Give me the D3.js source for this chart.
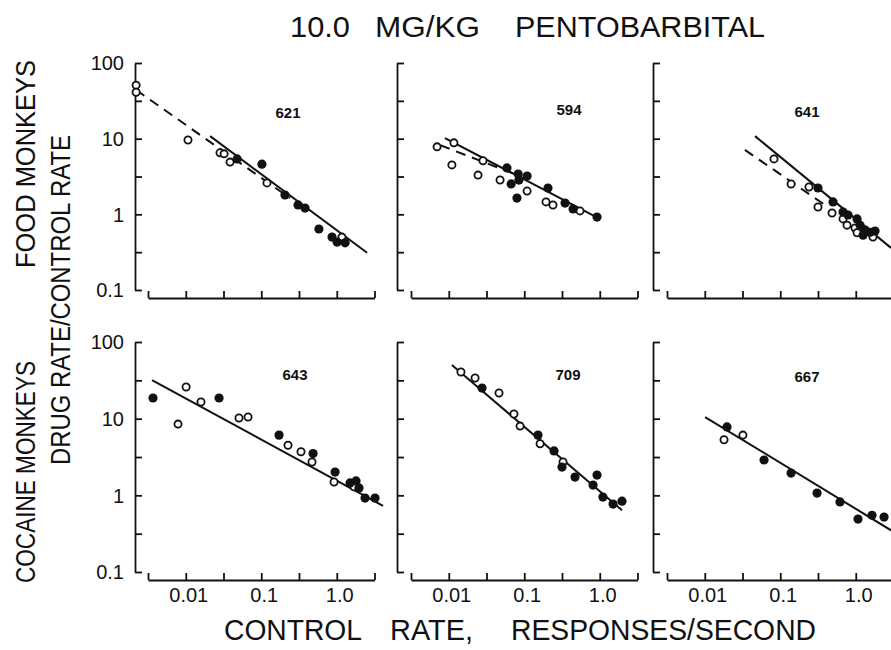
<!DOCTYPE html>
<html>
<head>
<meta charset="utf-8">
<script src="https://cdn.jsdelivr.net/npm/d3@7"></script>
<style>
  body { margin: 0; background: #fff; }
  svg text { font-family: "Liberation Sans", Arial, sans-serif; fill: #111; }
</style>
</head>
<body>
<div id="chart"></div>
<script>
const width = 891
const height = 650

// panel names, reading order (top row food monkeys, bottom row cocaine monkeys)
const panelIds = ['621', '594', '641', '643', '709', '667']
const rowNames = ['FOOD MONKEYS', 'COCAINE MONKEYS']

// tick values (half decades) and labels
const xDomain = [0.00316, 3.16]
const yDomain = [0.1, 100]
const xTicks = [0.00316, 0.01, 0.0316, 0.1, 0.316, 1, 3.16]
const yTicks = [0.1, 0.316, 1, 3.16, 10, 31.6, 100]
const xLabelValues = [0.01, 0.1, 1]
const xLabelText = ['0.01', '0.1', '1.0']
const yLabelValues = [100, 10, 1, 0.1]
const yLabelText = ['100', '10', '1', '0.1']

// data: [control rate, drug rate/control rate]
const filled621 = [[0.0478, 5.4], [0.102, 4.6], [0.206, 1.8], [0.307, 1.33], [0.38, 1.21], [0.58, 0.64], [0.865, 0.50], [1.01, 0.43], [1.29, 0.42]]
const open621 = [[0.0022, 51], [0.0022, 41], [0.0107, 9.6], [0.0284, 6.5], [0.0322, 6.3], [0.0386, 4.9], [0.119, 2.6], [1.17, 0.50]]
const fit621 = [[0.021, 10.8], [2.52, 0.31]]
const dash621 = [[0.0022, 44], [0.24, 1.64]]

const filled594 = [[0.059, 4.1], [0.067, 2.52], [0.080, 1.64], [0.083, 3.4], [0.085, 2.84], [0.109, 3.2], [0.206, 2.23], [0.347, 1.41], [0.443, 1.18], [0.92, 0.92]]
const open594 = [[0.0070, 7.8], [0.0117, 8.8], [0.0110, 4.5], [0.0284, 5.1], [0.0244, 3.3], [0.0478, 2.84], [0.109, 2.03], [0.194, 1.46], [0.240, 1.33], [0.547, 1.11]]
const fit594 = [[0.0089, 10.2], [1.0, 0.87]]
const dash594 = [[0.0077, 8.2], [0.075, 3.4]]

const filled641 = [[0.316, 2.23], [0.50, 1.46], [0.678, 1.07], [0.79, 0.98], [1.04, 0.87], [1.14, 0.72], [1.33, 0.62], [1.55, 0.58], [1.80, 0.60], [1.25, 0.53]]
const open641 = [[0.0826, 5.4], [0.139, 2.52], [0.240, 2.30], [0.316, 1.25], [0.485, 1.04], [0.678, 0.87], [0.766, 0.72], [0.977, 0.66], [1.04, 0.57], [1.69, 0.50]]
const fit641 = [[0.0463, 10.8], [2.93, 0.36]]
const dash641 = [[0.034, 7.1], [0.39, 1.33]]

const filled643 = [[0.00368, 18.6], [0.0276, 18.6], [0.172, 6.1], [0.485, 3.5], [0.95, 2.01], [1.50, 1.45], [1.80, 1.54], [1.97, 1.25], [2.37, 0.92], [3.21, 0.92]]
const open643 = [[0.0079, 8.5], [0.0101, 25.9], [0.0159, 16.5], [0.0507, 10.2], [0.0668, 10.5], [0.226, 4.5], [0.336, 3.7], [0.47, 2.72], [0.92, 1.49], [1.69, 1.29]]
const fit643 = [[0.00357, 31.9], [4.1, 0.73]]

const filled709 = [[0.0276, 25.1], [0.152, 6.1], [0.248, 3.8], [0.316, 2.34], [0.47, 1.73], [0.92, 1.84], [0.815, 1.36], [1.10, 0.95], [1.50, 0.77], [1.97, 0.84]]
const open709 = [[0.0145, 40.6], [0.0223, 33.9], [0.0463, 21.6], [0.073, 11.5], [0.088, 8.0], [0.162, 4.7], [0.326, 2.72]]
const fit709 = [[0.011, 50], [1.97, 0.64]]

const filled667 = [[0.0197, 7.8], [0.061, 2.89], [0.139, 1.95], [0.307, 1.07], [0.618, 0.82], [1.07, 0.49], [1.64, 0.55], [2.37, 0.52]]
const open667 = [[0.018, 5.3], [0.032, 6.1]]
const fit667 = [[0.0101, 10.5], [2.93, 0.35]]

const panels = [
    { id: panelIds[0], filled: filled621, open: open621, fit: fit621, dash: dash621 },
    { id: panelIds[1], filled: filled594, open: open594, fit: fit594, dash: dash594 },
    { id: panelIds[2], filled: filled641, open: open641, fit: fit641, dash: dash641 },
    { id: panelIds[3], filled: filled643, open: open643, fit: fit643, dash: null },
    { id: panelIds[4], filled: filled709, open: open709, fit: fit709, dash: null },
    { id: panelIds[5], filled: filled667, open: open667, fit: fit667, dash: null }
]

// layout
const yAxisX = [135, 397, 653]
const xStart = [148, 411, 667]
const decade = 75.5
const rowTop = [63, 342]
const rowBottom = [290, 572]
const axisGap = 8
const idPos = [[288, 113], [569, 110], [807, 112], [295, 375], [568, 375], [807, 377]]

const svg = d3.select('#chart').append('svg')
    .attr('width', width)
    .attr('height', height)

svg.append('rect')
    .attr('width', width)
    .attr('height', height)
    .attr('fill', 'white')

panels.forEach(function(p, i) {
    const col = i % 3
    const row = Math.floor(i / 3)
    const x = d3.scaleLog().domain(xDomain).range([xStart[col], xStart[col] + 3 * decade])
    const y = d3.scaleLog().domain(yDomain).range([rowBottom[row], rowTop[row]])
    const g = svg.append('g')

    // y axis, ticks inward
    g.append('g')
        .attr('class', 'axis')
        .attr('transform', 'translate(' + yAxisX[col] + ',0)')
        .call(d3.axisRight(y).tickValues(yTicks).tickSize(7).tickSizeOuter(0).tickFormat(''))
    // x axis, ticks upward
    g.append('g')
        .attr('class', 'axis')
        .attr('transform', 'translate(0,' + (rowBottom[row] + axisGap) + ')')
        .call(d3.axisTop(x).tickValues(xTicks).tickSize(7).tickSizeOuter(0).tickFormat(''))

    if (col === 0) {
        g.selectAll('.ylab')
            .data(yLabelValues)
            .enter().append('text')
            .attr('x', yAxisX[col] - 11)
            .attr('y', function(d) { return y(d) })
            .attr('dy', '0.36em')
            .attr('text-anchor', 'end')
            .attr('font-size', 20)
            .text(function(d, k) { return yLabelText[k] })
    }
    if (row === 1) {
        g.selectAll('.xlab')
            .data(xLabelValues)
            .enter().append('text')
            .attr('x', function(d) { return x(d) + 3 })
            .attr('y', rowBottom[row] + axisGap + 22)
            .attr('text-anchor', 'middle')
            .attr('font-size', 20)
            .text(function(d, k) { return xLabelText[k] })
    }

    const line = d3.line()
        .x(function(d) { return x(d[0]) })
        .y(function(d) { return y(d[1]) })

    g.append('path')
        .datum(p.fit)
        .attr('d', line)
        .attr('stroke', '#111')
        .attr('stroke-width', 2)
        .attr('fill', 'none')
    if (p.dash) {
        g.append('path')
            .datum(p.dash)
            .attr('d', line)
            .attr('stroke', '#111')
            .attr('stroke-width', 2)
            .attr('stroke-dasharray', '10,7')
            .attr('fill', 'none')
    }

    g.selectAll('.open')
        .data(p.open)
        .enter().append('circle')
        .attr('cx', function(d) { return x(d[0]) })
        .attr('cy', function(d) { return y(d[1]) })
        .attr('r', 3.6)
        .attr('fill', 'white')
        .attr('stroke', '#111')
        .attr('stroke-width', 1.8)
    g.selectAll('.filled')
        .data(p.filled)
        .enter().append('circle')
        .attr('cx', function(d) { return x(d[0]) })
        .attr('cy', function(d) { return y(d[1]) })
        .attr('r', 4.6)
        .attr('fill', '#111')

    g.append('text')
        .attr('x', idPos[i][0])
        .attr('y', idPos[i][1])
        .attr('dy', '0.36em')
        .attr('text-anchor', 'middle')
        .attr('font-size', 15)
        .attr('font-weight', 'bold')
        .text(p.id)
})

svg.selectAll('.axis path, .axis line')
    .attr('stroke', '#111')
    .attr('stroke-width', 1.8)

// title
const title = svg.append('text')
    .attr('y', 37)
    .attr('font-size', 30)
title.append('tspan').attr('x', 290).attr('textLength', 60).attr('lengthAdjust', 'spacingAndGlyphs').text('10.0')
title.append('tspan').attr('x', 375).attr('textLength', 105).attr('lengthAdjust', 'spacingAndGlyphs').text('MG/KG')
title.append('tspan').attr('x', 515).attr('textLength', 250).attr('lengthAdjust', 'spacingAndGlyphs').text('PENTOBARBITAL')

// x axis title
const xTitle = svg.append('text')
    .attr('y', 640)
    .attr('font-size', 29)
xTitle.append('tspan').attr('x', 224).attr('textLength', 138).attr('lengthAdjust', 'spacingAndGlyphs').text('CONTROL')
xTitle.append('tspan').attr('x', 390).attr('textLength', 83).attr('lengthAdjust', 'spacingAndGlyphs').text('RATE,')
xTitle.append('tspan').attr('x', 511).attr('textLength', 305).attr('lengthAdjust', 'spacingAndGlyphs').text('RESPONSES/SECOND')

// row titles and shared y title
const sideLabels = [
    { text: rowNames[0], x: 35, y: 164, len: 208 },
    { text: rowNames[1], x: 35, y: 472, len: 222 },
    { text: 'DRUG RATE/CONTROL RATE', x: 70, y: 300, len: 330 }
]
svg.selectAll('.side')
    .data(sideLabels)
    .enter().append('text')
    .attr('transform', function(d) { return 'translate(' + d.x + ',' + d.y + ') rotate(-90)' })
    .attr('text-anchor', 'middle')
    .attr('font-size', 27)
    .attr('textLength', function(d) { return d.len })
    .attr('lengthAdjust', 'spacingAndGlyphs')
    .text(function(d) { return d.text })
</script>
</body>
</html>
